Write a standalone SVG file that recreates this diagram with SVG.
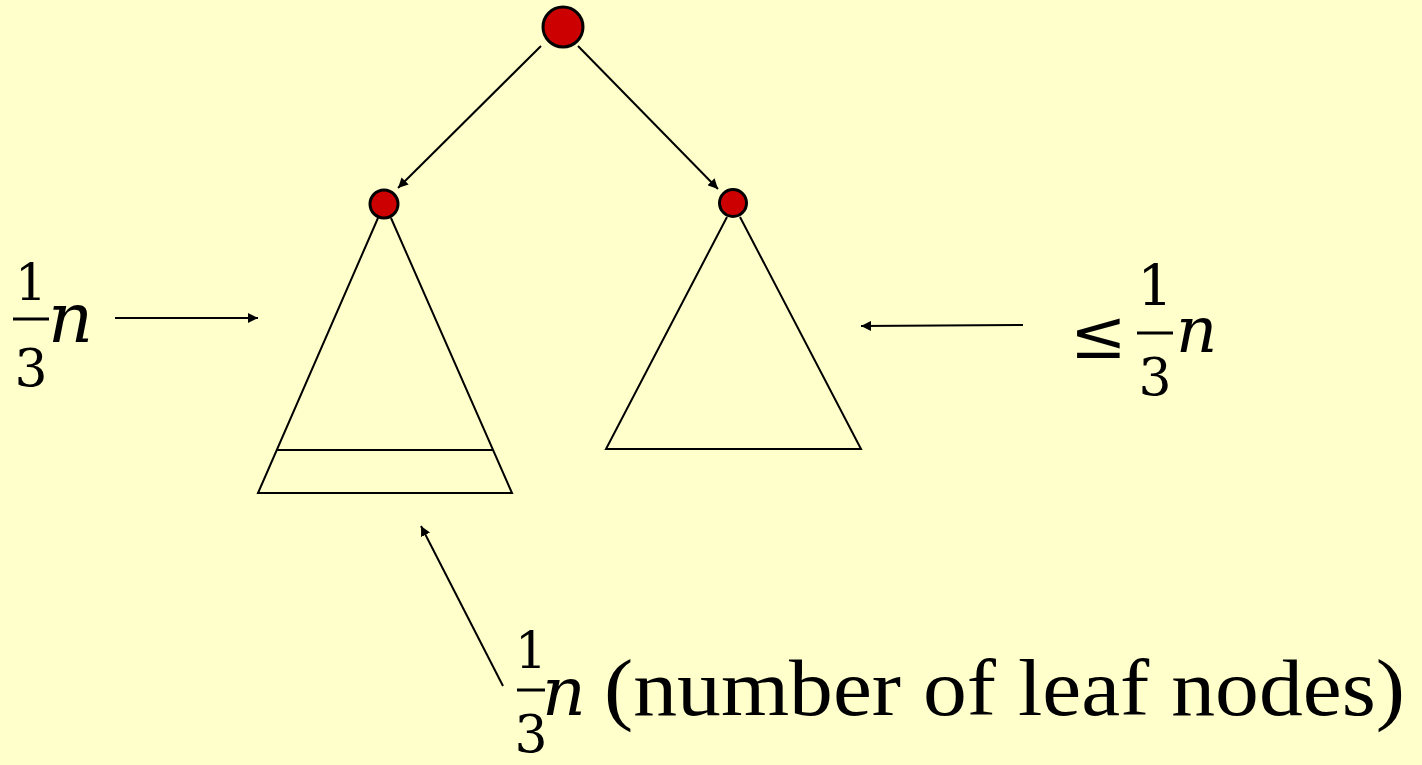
<svg xmlns="http://www.w3.org/2000/svg" width="1422" height="765" viewBox="0 0 1422 765">
<defs>
<marker id="ah" viewBox="0 0 10 10" refX="10" refY="5" markerWidth="10" markerHeight="10" markerUnits="userSpaceOnUse" orient="auto">
<path d="M0,0 L10,5 L0,10 z" fill="#000"/>
</marker>
</defs>
<style>
.node{fill:#CC0000;stroke:#000;stroke-width:3}
.tri{fill:none;stroke:#000;stroke-width:2}
.conn{stroke:#000;stroke-width:2;fill:none;marker-end:url(#ah)}
.m{font-family:"DejaVu Serif","Liberation Serif",serif;fill:#000}
.t{font-family:"Liberation Serif","Times New Roman",serif;fill:#000}
.it{font-style:italic}
.bar{stroke:#000;stroke-width:3}
</style>
<rect width="1422" height="765" fill="#FFFFCC"/>
<g id="left-subtree">
<polyline class="tri" points="378,218 258,493 512,493 391,218"/>
<line class="tri" x1="277" y1="450" x2="493" y2="450"/>
</g>
<g id="right-subtree">
<polyline class="tri" points="727,217 606,449 861,449 740,217"/>
</g>
<g id="root"><circle class="node" cx="563" cy="27" r="20"/></g>
<g id="left-child"><circle class="node" cx="384" cy="204" r="14"/></g>
<g id="right-child"><circle class="node" cx="733" cy="203" r="13.5"/></g>
<g id="connectors">
<line class="conn" x1="541" y1="46" x2="398" y2="188"/>
<line class="conn" x1="578" y1="46" x2="718" y2="189"/>
<line class="conn" x1="115" y1="318" x2="258" y2="318"/>
<line class="conn" x1="1023" y1="325" x2="861" y2="326"/>
<line class="conn" x1="503" y1="686" x2="421" y2="526"/>
</g>
<g id="label-left">
<text class="m" x="31" y="300" font-size="50" text-anchor="middle">1</text>
<line class="bar" x1="13" y1="319" x2="49" y2="319"/>
<text class="m" x="31" y="386" font-size="52" text-anchor="middle">3</text>
<text class="m it" x="48" y="342" font-size="70">n</text>
</g>
<g id="label-right">
<text class="m" x="1070" y="358" font-size="68">≤</text>
<text class="m" x="1155" y="305" font-size="56" text-anchor="middle">1</text>
<line class="bar" x1="1137" y1="333" x2="1173" y2="333"/>
<text class="m" x="1155" y="395" font-size="52" text-anchor="middle">3</text>
<text class="m it" x="1176" y="352" font-size="64">n</text>
</g>
<g id="label-bottom">
<text class="m" x="531" y="668" font-size="50" text-anchor="middle">1</text>
<line class="bar" x1="517" y1="690" x2="545" y2="690"/>
<text class="m" x="531" y="752" font-size="52" text-anchor="middle">3</text>
<text class="m it" x="542" y="715" font-size="68">n</text>
<text class="t" x="604" y="715" font-size="80" textLength="801" lengthAdjust="spacingAndGlyphs">(number of leaf nodes)</text>
</g>
</svg>
